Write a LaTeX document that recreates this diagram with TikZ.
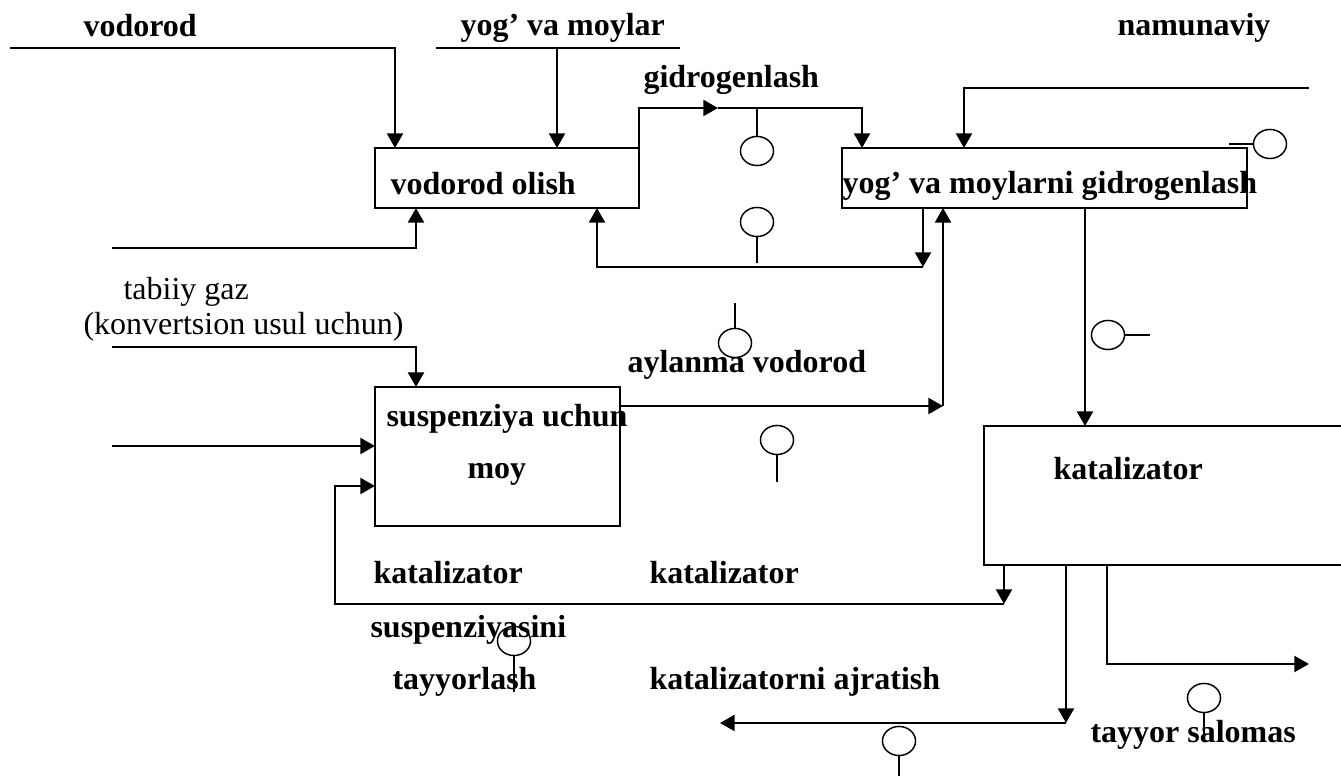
\documentclass[tikz,border=0pt]{standalone}
\usepackage{fontspec}
\setmainfont{Liberation Serif}
\usepackage{tikz}
\usetikzlibrary{arrows.meta}
\usetikzlibrary{shapes.geometric}
\tikzset{blok/.style = {draw, line width=0.8pt, inner sep=0pt, outer sep=0pt}}
\tikzset{zond/.style = {draw, ellipse, line width=0.55pt, minimum width=12.4pt, minimum height=10.9pt, inner sep=0pt, outer sep=0pt}}
\tikzset{yoz/.style = {anchor=base west, inner sep=0pt, font=\fontsize{12}{14}\selectfont\bfseries}}
\tikzset{oddiy/.style = {anchor=base west, inner sep=0pt, font=\fontsize{12}{14}\selectfont}}
\tikzset{oqim/.style = {line width=0.85pt, -{Triangle[length=5.5pt,width=6pt]}}}
\tikzset{chiziq/.style = {line width=0.85pt}}
\tikzset{tik/.style = {line width=0.55pt}}

\begin{document}
\begin{tikzpicture} [x=0.375pt, y=-0.375pt]
\useasboundingbox (0,0) rectangle (1341,776);
\node[blok, minimum width=99pt, minimum height=22.5pt] (vo) at (507,178) {};
\node[blok, minimum width=151.9pt, minimum height=22.5pt] (gi) at (1044.5,178) {};
\node[blok, minimum width=91.9pt, minimum height=52.1pt] (su) at (497.5,456.5) {};
\node[blok, minimum width=135.4pt, minimum height=52.1pt] (ka) at (1164.5,495.5) {};
\node[yoz] (tvodorod) at (83,37) {vodorod};
\node[yoz] (tyog) at (460,36) {yog’ va moylar};
\node[yoz] (tnamuna) at (1117,36) {namunaviy};
\node[yoz] (tgidro) at (643,88) {gidrogenlash};
\node[yoz] (tvo) at (390,195) {vodorod olish};
\node[yoz] (tgi) at (842,194) {yog’ va moylarni gidrogenlash};
\node[oddiy] (tgaz) at (123,300) {tabiiy gaz};
\node[oddiy] (tkonv) at (83,335) {(konvertsion usul uchun)};
\node[yoz] (tayl) at (627,373) {aylanma vodorod};
\node[yoz] (tsu1) at (386,427) {suspenziya uchun};
\node[yoz] (tsu2) at (467,479) {moy};
\node[yoz] (tka) at (1053,480) {katalizator};
\node[yoz] (tkat1) at (373,584) {katalizator};
\node[yoz] (tkat2) at (649,584) {katalizator};
\node[yoz] (tsusp) at (370,638) {suspenziyasini};
\node[yoz] (ttayy) at (392,690) {tayyorlash};
\node[yoz] (tajr) at (649,690) {katalizatorni ajratish};
\node[yoz] (tsal) at (1090,743) {tayyor salomas};
\coordinate (v1) at (10,48);
\coordinate (y1) at (436,48);
\coordinate (y2) at (680,48);
\coordinate (n1) at (1309,88);
\coordinate (t1) at (112,248);
\coordinate (t2) at (112,347);
\coordinate (t3) at (112,446);
\coordinate (s1) at (720,723);
\coordinate (s2) at (1309,664);
\draw[oqim] (v1) -| (395,0 |- vo.north);
\draw[chiziq] (y1) -- (y2);
\draw[oqim] (557,48) -- (557,0 |- vo.north);
\draw[oqim] (t1) -| (416,0 |- vo.south);
\draw[oqim] (vo.north east) |- (718,108);
\draw[oqim] (718,108) -| (862,0 |- gi.north);
\draw[oqim] (923,0 |- gi.south) -- (923,267);
\draw[oqim] (923,267) -| (597,0 |- vo.south);
\draw[oqim] (su.east |- 0,406) -- (943,406);
\draw[oqim] (943,406) -- (943,0 |- gi.south);
\draw[oqim] (n1) -| (964,0 |- gi.north);
\draw[oqim] (1085,0 |- gi.south) -- (1085,0 |- ka.north);
\draw[oqim] (t2) -| (416,0 |- su.north);
\draw[oqim] (t3) -- (su.west |- t3);
\draw[oqim] (1004,0 |- ka.south) -- (1004,604);
\draw[oqim] (1004,604) -| (335,486) -- (su.west |- 0,486);
\draw[oqim] (1066,0 |- ka.south) -- (1066,723);
\draw[oqim] (1066,723) -- (s1);
\draw[oqim] (1107,0 |- ka.south) |- (s2);
\node[zond] (z1) at (757,151) {};
\draw[tik] (z1.north) -- (757,108);
\node[zond] (z2) at (757,222) {};
\draw[tik] (z2.south) -- (757,263);
\node[zond] (z3) at (1270,144) {};
\draw[tik] (z3.west) -- (1229,144);
\node[zond] (z4) at (735,343) {};
\draw[tik] (z4.north) -- (735,303);
\node[zond] (z5) at (1108,335) {};
\draw[tik] (z5.east) -- (1150,335);
\node[zond] (z6) at (777,440) {};
\draw[tik] (z6.south) -- (777,482);
\node[zond] (z7) at (514,641) {};
\draw[tik] (z7.south) -- (514,692);
\node[zond] (z8) at (1204,698) {};
\draw[tik] (z8.south) -- (1204,735);
\node[zond] (z9) at (899,741) {};
\draw[tik] (z9.south) -- (899,776);
\end{tikzpicture}
\end{document}
